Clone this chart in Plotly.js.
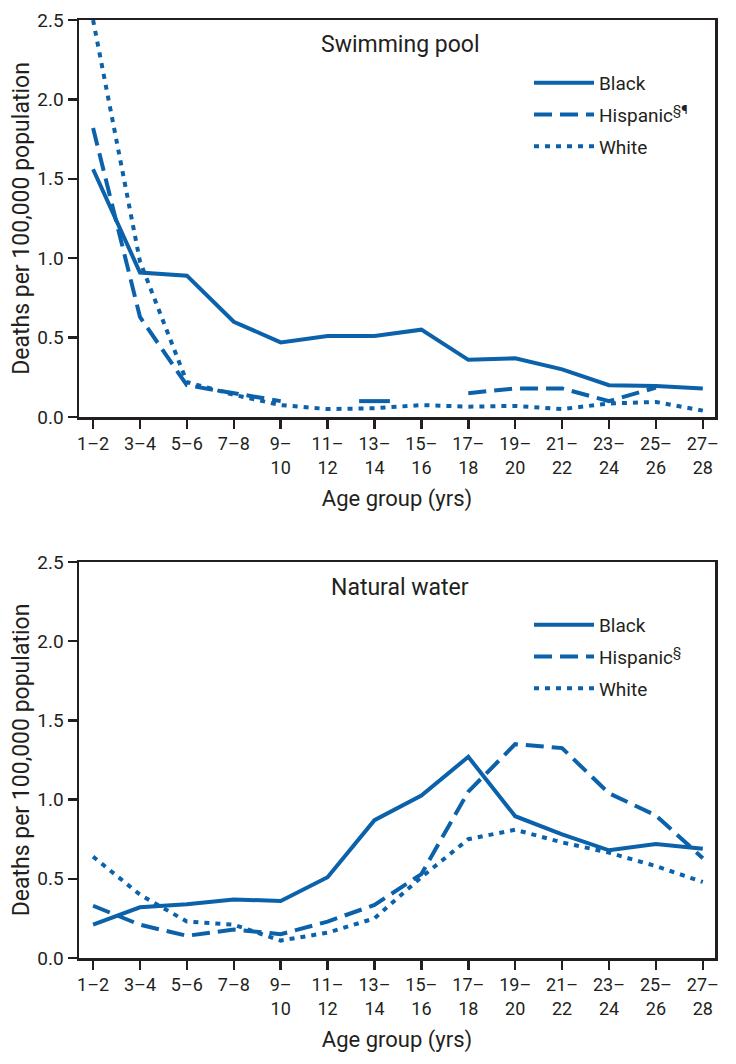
<!DOCTYPE html>
<html>
<head>
<meta charset="utf-8">
<script src="https://cdn.plot.ly/plotly-3.0.1.min.js"></script>
<style>
  html, body { margin: 0; padding: 0; background: #ffffff; }
  #chart { width: 736px; height: 1064px; }
</style>
</head>
<body>
<div id="chart"></div>
<script>
// ---- Data ----
var ageGroups = ['1–2','3–4','5–6','7–8','9–10','11–12','13–14','15–16','17–18','19–20','21–22','23–24','25–26','27–28'];
var tickLabels = ['1–2','3–4','5–6','7–8','9–<br>10','11–<br>12','13–<br>14','15–<br>16','17–<br>18','19–<br>20','21–<br>22','23–<br>24','25–<br>26','27–<br>28'];
var yTickVals = [0, 0.5, 1.0, 1.5, 2.0, 2.5];

// Swimming pool
var poolBlack    = [1.56, 0.91, 0.89, 0.60, 0.47, 0.51, 0.51, 0.55, 0.36, 0.37, 0.30, 0.20, 0.195, 0.18];
var poolHispanic = [1.82, 0.63, 0.20, 0.15, 0.10, null, 0.10, null, 0.15, 0.18, 0.18, 0.10, 0.185, null];
var poolWhite    = [2.50, 0.98, 0.22, 0.14, 0.075, 0.05, 0.055, 0.075, 0.065, 0.07, 0.05, 0.085, 0.095, 0.04];

// Natural water
var natBlack    = [0.21, 0.32, 0.34, 0.37, 0.36, 0.51, 0.87, 1.025, 1.27, 0.895, 0.78, 0.68, 0.72, 0.69];
var natHispanic = [0.33, 0.21, 0.14, 0.18, 0.15, 0.23, 0.335, 0.53, 1.05, 1.35, 1.325, 1.04, 0.90, 0.63];
var natWhite    = [0.64, 0.40, 0.23, 0.21, 0.11, 0.16, 0.25, 0.51, 0.75, 0.81, 0.73, 0.665, 0.58, 0.48];

var panelTitles = ['Swimming pool', 'Natural water'];
var seriesNames = ['Black', 'Hispanic', 'White'];
var hispanicSup = ['<sup>§¶</sup>', '<sup>§</sup>'];

// ---- Style ----
var blue = '#0b62ab';
var ink = '#231f20';
var fontFam = 'Roboto, Arial, sans-serif';
var dashes = ['solid', '18px,8px', '5px,6px'];

function isolated(arr) {
  var xs = [], ys = [];
  for (var i = 0; i < arr.length; i++) {
    if (arr[i] === null) continue;
    var prev = i > 0 ? arr[i-1] : null;
    var next = i < arr.length - 1 ? arr[i+1] : null;
    if (prev === null && next === null) { xs.push(ageGroups[i]); ys.push(arr[i]); }
  }
  return {x: xs, y: ys};
}

var traces = [];
var panels = [[poolBlack, poolHispanic, poolWhite], [natBlack, natHispanic, natWhite]];
panels.forEach(function(series, p) {
  var xa = p === 0 ? 'x' : 'x2';
  var ya = p === 0 ? 'y' : 'y2';
  var lg = p === 0 ? 'legend' : 'legend2';
  series.forEach(function(vals, s) {
    var name = seriesNames[s] + (s === 1 ? hispanicSup[p] : '');
    traces.push({
      type: 'scatter', mode: 'lines', x: ageGroups, y: vals,
      xaxis: xa, yaxis: ya, name: name, legend: lg, legendgroup: lg + s,
      line: {color: blue, width: 4, dash: dashes[s]},
      connectgaps: false, hoverinfo: 'skip'
    });
    var iso = isolated(vals);
    if (iso.x.length) {
      traces.push({
        type: 'scatter', mode: 'markers', x: iso.x, y: iso.y,
        xaxis: xa, yaxis: ya, showlegend: false, hoverinfo: 'skip',
        marker: {symbol: 'line-ew', size: 22, line: {color: blue, width: 4}}
      });
    }
  });
});

var X0 = 79, X1 = 715;

function xAxis(anchor) {
  return {
    type: 'category', categoryorder: 'array', categoryarray: ageGroups,
    tickvals: ageGroups, ticktext: tickLabels,
    range: [-0.30, 13.26], domain: [X0/736, X1/736], anchor: anchor,
    showline: true, linecolor: ink, linewidth: 2.5, mirror: true,
    ticks: 'outside', ticklen: 9, tickwidth: 2.5, tickcolor: ink,
    showgrid: false, zeroline: false,
    tickfont: {family: fontFam, size: 18, color: ink},
    title: {text: 'Age group (yrs)', font: {family: fontFam, size: 22, color: ink}, standoff: 14},
    automargin: false, fixedrange: true
  };
}
function yAxis(domain, anchor) {
  return {
    range: [0, 2.5], domain: domain, anchor: anchor,
    tickvals: yTickVals, tickformat: '.1f',
    showline: true, linecolor: ink, linewidth: 2.5, mirror: true,
    ticks: 'outside', ticklen: 9, tickwidth: 2.5, tickcolor: ink,
    showgrid: false, zeroline: false,
    tickfont: {family: fontFam, size: 19, color: ink},
    title: {text: 'Deaths per 100,000 population', font: {family: fontFam, size: 23, color: ink}, standoff: 2},
    automargin: false, fixedrange: true
  };
}

var H = 1064;
var topDom = [1 - 417/H, 1 - 20/H];
var botDom = [1 - 958/H, 1 - 562/H];

function legendCfg(yTop) {
  return {
    x: 529/736, xanchor: 'left', y: 1 - yTop/H, yanchor: 'top',
    bgcolor: 'rgba(0,0,0,0)', borderwidth: 0,
    font: {family: fontFam, size: 19, color: ink},
    itemwidth: 60, traceorder: 'grouped', tracegroupgap: 4
  };
}

var layout = {
  width: 736, height: 1064,
  margin: {l: 0, r: 0, t: 0, b: 0},
  paper_bgcolor: '#ffffff', plot_bgcolor: '#ffffff',
  showlegend: true,
  xaxis: xAxis('y'),
  yaxis: yAxis(topDom, 'x'),
  xaxis2: xAxis('y2'),
  yaxis2: yAxis(botDom, 'x2'),
  legend: legendCfg(64),
  legend2: legendCfg(606),
  annotations: [
    {text: panelTitles[0], xref: 'paper', yref: 'paper', x: 400/736, y: 1 - 45/H, showarrow: false,
     xanchor: 'center', yanchor: 'middle', font: {family: fontFam, size: 23, color: ink}},
    {text: panelTitles[1], xref: 'paper', yref: 'paper', x: 400/736, y: 1 - 587/H, showarrow: false,
     xanchor: 'center', yanchor: 'middle', font: {family: fontFam, size: 23, color: ink}}
  ]
};

Plotly.newPlot('chart', traces, layout, {displayModeBar: false, staticPlot: true});
</script>
</body>
</html>
